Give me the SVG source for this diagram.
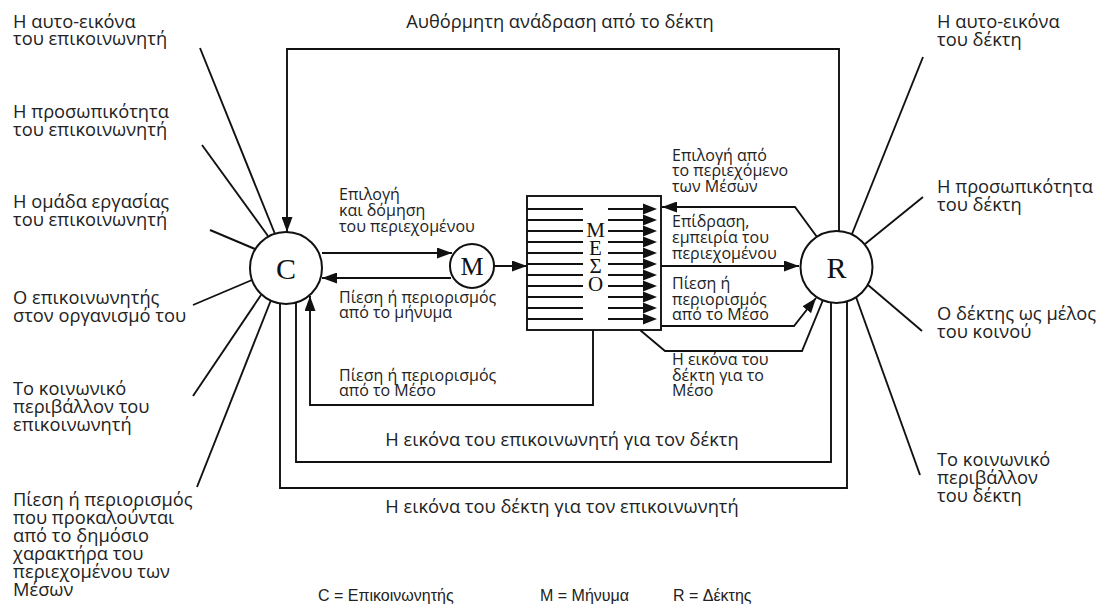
<svg xmlns="http://www.w3.org/2000/svg" width="1106" height="608" viewBox="0 0 1106 608">
<defs>
<style>
.t{font-family:"Open Sans","Noto Sans",sans-serif;font-size:18.3px;fill:#222}
.s{font-size:16px}
.lg{font-family:"Liberation Sans",sans-serif;font-size:16px;fill:#222}
.ln{stroke:#111;stroke-width:1.9;fill:none}
.ar{marker-end:url(#ah)}
.nd{fill:#fff;stroke:#111;stroke-width:2}
.sym{font-family:"Liberation Serif",serif;fill:#111;text-anchor:middle}
</style>
<marker id="ah" viewBox="0 0 15 11" refX="15" refY="5.5" markerWidth="15" markerHeight="11" markerUnits="userSpaceOnUse" orient="auto"><path d="M0,0 L15,5.5 L0,11 z" fill="#111"/></marker>
<path id="tri" d="M0,-5.5 L14,0 L0,5.5 z" fill="#111"/>
</defs>
<rect width="1106" height="608" fill="#fff"/>

<g id="spokes" class="ln">
<line x1="200" y1="48" x2="275" y2="234"/>
<line x1="202" y1="145" x2="268" y2="236"/>
<line x1="210" y1="230" x2="255" y2="249"/>
<line x1="193" y1="305" x2="252" y2="280"/>
<line x1="193" y1="396" x2="261" y2="295"/>
<line x1="197" y1="487" x2="271" y2="300"/>
<line x1="923" y1="57" x2="852" y2="234"/>
<line x1="923" y1="197" x2="865" y2="244"/>
<line x1="922" y1="331" x2="868" y2="285"/>
<line x1="920" y1="475" x2="856" y2="297"/>
</g>

<g id="connectors" class="ln">
<path class="ar" d="M839,231 V49 H287 V232"/>
<path class="ar" d="M322,253 H452"/>
<path class="ar" d="M451,278 H322"/>
<path class="ar" d="M494,266 H527"/>
<path class="ar" d="M661,266 H799"/>
<path class="ar" d="M817,237 L795,207 H662"/>
<path class="ar" d="M661,326 H794 L816,298"/>
<path d="M823,300 L802,351 H665 L640,330"/>
<path class="ar" d="M593,330 V405 H310 V296"/>
<path d="M296,303 V462 H831 V303"/>
<path d="M280,303 V488 H847 V302"/>
</g>

<g id="C"><circle class="nd" cx="286" cy="268" r="36"/><text class="sym" x="286" y="279" font-size="30">C</text></g>
<g id="M"><circle class="nd" cx="472" cy="266" r="22"/><text class="sym" x="472" y="275" font-size="26">M</text></g>
<g id="R"><circle class="nd" cx="836.5" cy="267" r="36"/><text class="sym" x="836.5" y="278" font-size="30">R</text></g>

<g id="medium">
<rect x="527" y="196" width="134" height="134" fill="#fff" stroke="#111" stroke-width="1.9"/>
<g stroke="#111" stroke-width="1.8">
<path d="M527,209 H583 M608,209 H645 M527,220 H583 M608,220 H645 M527,231 H583 M608,231 H645 M527,242 H583 M608,242 H645 M527,253 H583 M608,253 H645 M527,264 H583 M608,264 H645 M527,275 H583 M608,275 H645 M527,286 H583 M608,286 H645 M527,297 H583 M608,297 H645 M527,308 H583 M608,308 H645 M527,319 H583 M608,319 H645"/>
</g>
<use href="#tri" x="643" y="209"/><use href="#tri" x="643" y="220"/><use href="#tri" x="643" y="231"/><use href="#tri" x="643" y="242"/><use href="#tri" x="643" y="253"/><use href="#tri" x="643" y="264"/><use href="#tri" x="643" y="275"/><use href="#tri" x="643" y="286"/><use href="#tri" x="643" y="297"/><use href="#tri" x="643" y="308"/><use href="#tri" x="643" y="319"/>
<text class="sym" x="595.5" font-size="21"><tspan x="595.5" y="237">Μ</tspan><tspan x="595.5" y="255">Ε</tspan><tspan x="595.5" y="273">Σ</tspan><tspan x="595.5" y="291">Ο</tspan></text>
</g>

<g id="labels-left" class="t">
<text><tspan x="13" y="28">Η αυτο-εικόνα</tspan><tspan x="13" y="45">του επικοινωνητή</tspan></text>
<text><tspan x="13" y="118">Η προσωπικότητα</tspan><tspan x="13" y="136">του επικοινωνητή</tspan></text>
<text><tspan x="13" y="208">Η ομάδα εργασίας</tspan><tspan x="13" y="226">του επικοινωνητή</tspan></text>
<text><tspan x="13" y="304">Ο επικοινωνητής</tspan><tspan x="13" y="322">στον οργανισμό του</tspan></text>
<text><tspan x="13" y="395">Το κοινωνικό</tspan><tspan x="13" y="413">περιβάλλον του</tspan><tspan x="13" y="431">επικοινωνητή</tspan></text>
<text><tspan x="13" y="506">Πίεση ή περιορισμός</tspan><tspan x="13" y="524">που προκαλούνται</tspan><tspan x="13" y="542">από το δημόσιο</tspan><tspan x="13" y="560">χαρακτήρα του</tspan><tspan x="13" y="578">περιεχομένου των</tspan><tspan x="13" y="596">Μέσων</tspan></text>
</g>

<g id="labels-right" class="t">
<text><tspan x="937" y="28">Η αυτο-εικόνα</tspan><tspan x="937" y="46">του δέκτη</tspan></text>
<text><tspan x="937" y="193">Η προσωπικότητα</tspan><tspan x="937" y="211">του δέκτη</tspan></text>
<text><tspan x="937" y="320">Ο δέκτης ως μέλος</tspan><tspan x="937" y="338">του κοινού</tspan></text>
<text><tspan x="937" y="466">Το κοινωνικό</tspan><tspan x="937" y="484">περιβάλλον</tspan><tspan x="937" y="502">του δέκτη</tspan></text>
</g>

<g id="labels-center" class="t s">
<text><tspan x="339" y="200">Επιλογή</tspan><tspan x="339" y="216">και δόμηση</tspan><tspan x="339" y="232">του περιεχομένου</tspan></text>
<text><tspan x="339" y="303">Πίεση ή περιορισμός</tspan><tspan x="339" y="318">από το μήνυμα</tspan></text>
<text><tspan x="339" y="381">Πίεση ή περιορισμός</tspan><tspan x="339" y="396">από το Μέσο</tspan></text>
<text><tspan x="672" y="161">Επιλογή από</tspan><tspan x="672" y="176">το περιεχόμενο</tspan><tspan x="672" y="191.5">των Μέσων</tspan></text>
<text><tspan x="672" y="227">Επίδραση,</tspan><tspan x="672" y="243">εμπειρία του</tspan><tspan x="672" y="259">περιεχομένου</tspan></text>
<text><tspan x="672" y="289">Πίεση ή</tspan><tspan x="672" y="305">περιορισμός</tspan><tspan x="672" y="320">από το Μέσο</tspan></text>
<text><tspan x="672" y="365">Η εικόνα του</tspan><tspan x="672" y="380.5">δέκτη για το</tspan><tspan x="672" y="396">Μέσο</tspan></text>
</g>

<g id="labels-loops" class="t" text-anchor="middle">
<text x="560" y="28">Αυθόρμητη ανάδραση από το δέκτη</text>
<text x="562" y="446">Η εικόνα του επικοινωνητή για τον δέκτη</text>
<text x="562" y="513">Η εικόνα του δέκτη για τον επικοινωνητή</text>
</g>

<g id="legend" class="lg">
<text x="318" y="601">C = Επικοινωνητής</text>
<text x="540" y="601">M = Μήνυμα</text>
<text x="673" y="601">R = Δέκτης</text>
</g>
</svg>
